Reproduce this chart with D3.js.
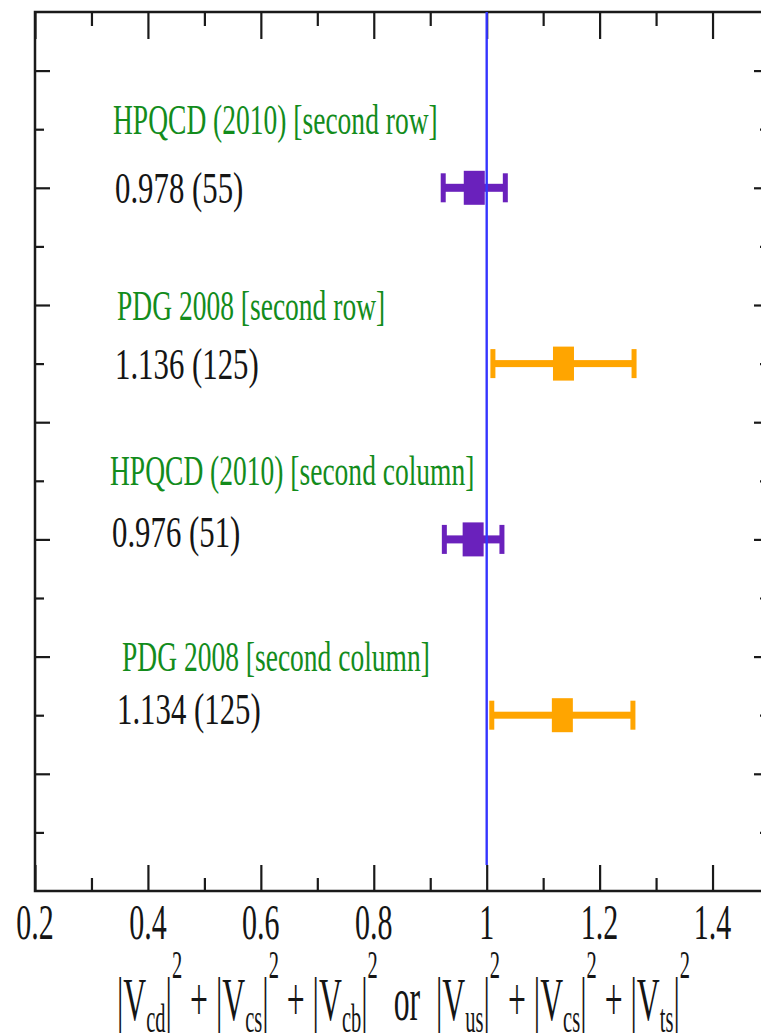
<!DOCTYPE html>
<html>
<head>
<meta charset="utf-8">
<script src="https://cdn.jsdelivr.net/npm/d3@7"></script>
<style>
  html, body { margin: 0; padding: 0; background: #fff; overflow: hidden; }
  svg { display: block; }
  text { font-family: "Liberation Serif", "Times New Roman", serif; }
</style>
</head>
<body>
<svg id="chart" width="761" height="1036"></svg>
<script>
// CKM unitarity tests: sums of squared matrix elements (second row / second column)
const rowLabels = [
  "HPQCD (2010) [second row]",
  "PDG 2008 [second row]",
  "HPQCD (2010) [second column]",
  "PDG 2008 [second column]"
];
const rowSources = ["HPQCD", "PDG", "HPQCD", "PDG"];
const rowValues = [0.978, 1.136, 0.976, 1.134];
const rowErrors = [0.055, 0.125, 0.051, 0.125];
const rowPositions = [6, 4.5, 3, 1.5];

const xMajorTicks = [0.2, 0.4, 0.6, 0.8, 1.0, 1.2, 1.4];
const xTickLabels = ["0.2", "0.4", "0.6", "0.8", "1", "1.2", "1.4"];
const xMinorTicks = [0.3, 0.5, 0.7, 0.9, 1.1, 1.3];
const yMajorTicks = [1, 2, 3, 4, 5, 6, 7];
const yMinorTicks = [0.5, 1.5, 2.5, 3.5, 4.5, 5.5, 6.5];
const unitarityValue = 1;

// ---- layout ----
const svg = d3.select("#chart");
const plot = { left: 35, right: 769, top: 12, bottom: 891 };
const x = d3.scaleLinear().domain([0.2, 1.5]).range([plot.left, plot.right]);
const y = d3.scaleLinear().domain([0, 7.5]).range([plot.bottom, plot.top]);

const colors = { HPQCD: "#6a21bc", PDG: "#ffa500" };
const barWidth = { HPQCD: 8, PDG: 7 };
const green = "#138c1c";
const ink = "#151515";

// label placement per row (pixel offsets from the row's y and x-starts)
const labelLayout = {
  titleX: [113, 117, 110, 122], titleDy: [-54, -44, -54, -44],
  valueX: [115, 115, 112, 117], valueDy: [15, 15, 8, 9]
};

const rows = rowLabels.map((label, i) => ({
  label, source: rowSources[i], value: rowValues[i], error: rowErrors[i], pos: rowPositions[i]
}));

// ---- frame and ticks ----
const axisColor = "#1a1a1a";
const frame = svg.append("g");
frame.append("rect")
  .attr("x", plot.left).attr("y", plot.top)
  .attr("width", plot.right - plot.left).attr("height", plot.bottom - plot.top)
  .attr("fill", "none").attr("stroke", axisColor).attr("stroke-width", 2.5);

// inward-pointing major/minor ticks on all four sides
const bottomMajor = d3.axisBottom(x).tickValues(xMajorTicks).tickSize(-26).tickFormat("");
const bottomMinor = d3.axisBottom(x).tickValues(xMinorTicks).tickSize(-13).tickFormat("");
const topMajor = d3.axisTop(x).tickValues(xMajorTicks).tickSize(-27).tickFormat("");
const topMinor = d3.axisTop(x).tickValues(xMinorTicks).tickSize(-14).tickFormat("");
const leftMajor = d3.axisLeft(y).tickValues(yMajorTicks).tickSize(-15).tickFormat("");
const leftMinor = d3.axisLeft(y).tickValues(yMinorTicks).tickSize(-9).tickFormat("");
const rightMajor = d3.axisRight(y).tickValues(yMajorTicks).tickSize(-15).tickFormat("");
const rightMinor = d3.axisRight(y).tickValues(yMinorTicks).tickSize(-9).tickFormat("");

function drawAxis(axis, tx, ty) {
  const g = frame.append("g").attr("transform", `translate(${tx},${ty})`).call(axis);
  g.select(".domain").remove();
  g.selectAll(".tick line").attr("stroke", axisColor).attr("stroke-width", 2.2);
  return g;
}
drawAxis(bottomMajor, 0, plot.bottom);
drawAxis(bottomMinor, 0, plot.bottom);
drawAxis(topMajor, 0, plot.top);
drawAxis(topMinor, 0, plot.top);
drawAxis(leftMajor, plot.left, 0);
drawAxis(leftMinor, plot.left, 0);
drawAxis(rightMajor, plot.right, 0);
drawAxis(rightMinor, plot.right, 0);

// tick labels (narrow serif face)
const tickFont = 50, tickSx = 0.6;
svg.append("g").selectAll("text").data(xMajorTicks).join("text")
  .attr("transform", (d) => `translate(${x(d)},939) scale(${tickSx},1)`)
  .attr("text-anchor", "middle")
  .attr("font-size", tickFont)
  .attr("fill", ink)
  .text((d, i) => xTickLabels[i]);

// ---- error bars and markers ----
const marks = svg.append("g");
const capH = 29, capW = 5, boxW = 21, boxH = 34;
rows.forEach((r) => {
  const c = colors[r.source];
  const cy = y(r.pos);
  const x0 = x(r.value - r.error), x1 = x(r.value + r.error);
  const bw = barWidth[r.source];
  marks.append("rect")
    .attr("x", x0).attr("y", cy - bw / 2).attr("width", x1 - x0).attr("height", bw).attr("fill", c);
  marks.append("rect")
    .attr("x", x0 - capW / 2).attr("y", cy - capH / 2).attr("width", capW).attr("height", capH).attr("fill", c);
  marks.append("rect")
    .attr("x", x1 - capW / 2).attr("y", cy - capH / 2).attr("width", capW).attr("height", capH).attr("fill", c);
  marks.append("rect")
    .attr("x", x(r.value) - boxW / 2).attr("y", cy - boxH / 2).attr("width", boxW).attr("height", boxH).attr("fill", c);
});

// unitarity reference line
svg.append("line")
  .attr("x1", x(unitarityValue)).attr("x2", x(unitarityValue))
  .attr("y1", plot.top).attr("y2", plot.bottom - 26)
  .attr("stroke", "#3434ff").attr("stroke-width", 2.4);

// ---- row labels ----
const labelFont = 42, labelSx = 0.655;
const valueFont = 44, valueSx = 0.70;
const labels = svg.append("g");
rows.forEach((r, i) => {
  const cy = y(r.pos);
  labels.append("text")
    .attr("transform", `translate(${labelLayout.titleX[i]},${cy + labelLayout.titleDy[i]}) scale(${labelSx},1)`)
    .attr("font-size", labelFont).attr("fill", green)
    .text(r.label);
  labels.append("text")
    .attr("transform", `translate(${labelLayout.valueX[i]},${cy + labelLayout.valueDy[i]}) scale(${valueSx},1)`)
    .attr("font-size", valueFont).attr("fill", ink)
    .text(`${r.value.toFixed(3)} (${Math.round(r.error * 1000)})`);
});

// ---- x-axis title: |Vcd|^2 + |Vcs|^2 + |Vcb|^2  or  |Vus|^2 + |Vcs|^2 + |Vts|^2 ----
const titleParts = [];
function term(sub, lead) {
  titleParts.push({ t: lead + "|V", k: "main" });
  titleParts.push({ t: sub, k: "sub" });
  titleParts.push({ t: "|", k: "main" });
  titleParts.push({ t: "2", k: "sup" });
}
term("cd", "");
term("cs", " + ");
term("cb", " + ");
term("us", "  or  ");
term("cs", " + ");
term("ts", " + ");

const titleStyle = {
  main: { size: 62, dy: 0 },
  sub: { size: 40, dy: 12 },
  sup: { size: 40, dy: -42 }
};
const titleBase = 1020, titleLeft = 117, titleRight = 690;
const titleInner = svg.append("g");
let cursor = 0;
titleParts.forEach((p) => {
  const st = titleStyle[p.k];
  const t = titleInner.append("text")
    .attr("x", cursor).attr("y", st.dy)
    .attr("font-size", st.size).attr("fill", ink)
    .attr("xml:space", "preserve")
    .style("white-space", "pre")
    .text(p.t);
  cursor += t.node().getComputedTextLength();
});
const titleSx = (titleRight - titleLeft) / cursor;
titleInner.attr("transform", `translate(${titleLeft},${titleBase}) scale(${titleSx},1)`);
</script>
</body>
</html>
